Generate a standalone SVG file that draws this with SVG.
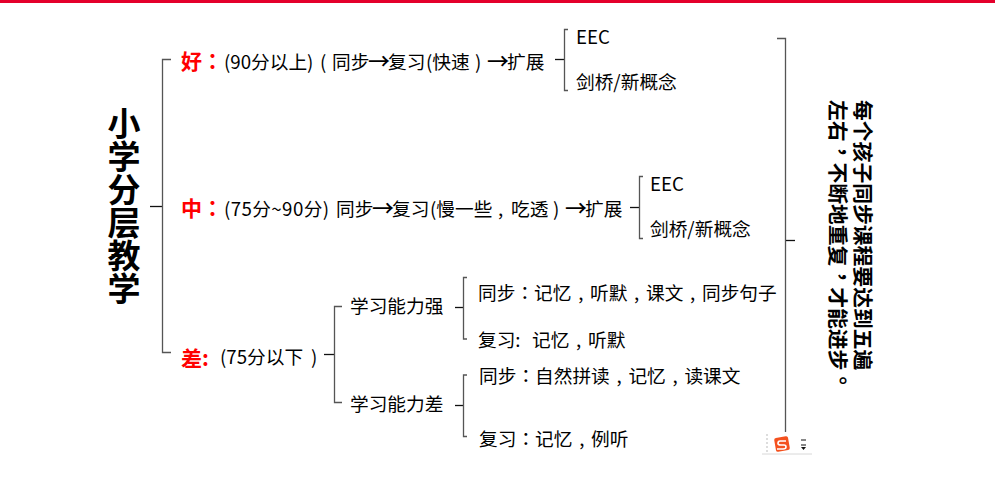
<svg xmlns="http://www.w3.org/2000/svg" width="995" height="484" viewBox="0 0 995 484">
<style>
text{font-family:"Noto Sans CJK SC","Liberation Sans",sans-serif;fill:#000}
tspan.p{font-family:"Noto Sans CJK TC",sans-serif}
tspan.a{font-size:22px;font-weight:500}
.t{font-size:18.7px}
.r{font-size:21px;font-weight:700;fill:#f00}
.h{font-size:33px;font-weight:700}
.v{font-size:20.8px;font-weight:700}
.c path{fill:none;stroke:#555;stroke-width:1.3}
.c path.k{stroke:#111}
</style>
<rect width="995" height="484" fill="#fff"/>
<rect id="top-bar" width="995" height="3" fill="#e4002b"/>
<g class="c" id="connectors">
<path class="k" d="M150 206.500H162"/>
<path d="M171 59.500H162.500V352.500H171"/>
<path class="k" d="M555 59.500H564"/>
<path d="M568 29.500H564.500V90.500H568"/>
<path class="k" d="M630 207.500H639"/>
<path d="M643 176.500H639.500V238.500H643"/>
<path class="k" d="M324 354.500H334"/>
<path d="M342 306.500H334.500V402.500H342"/>
<path class="k" d="M455 307.500H463"/>
<path d="M467 277.500H463.500V339H467"/>
<path class="k" d="M455 405.500H463"/>
<path d="M467 375H463.500V436.500H467"/>
<path d="M777 38.500H785.500V432"/>
<path class="k" d="M786 240.500H795"/>
</g>
<g id="root"><text class="h" text-anchor="middle" x="124 124 124 124 124 124" y="136 169 202 235 268 301">小学分层教学</text></g>
<g id="good"><text class="r" x="181" y="69">好<tspan class="p">：</tspan></text><text class="t" y="69"><tspan x="224">(90分以上)</tspan><tspan x="320">(</tspan><tspan x="332">同步</tspan><tspan class="a" x="368">→</tspan><tspan x="388">复习</tspan><tspan x="426">(快速</tspan><tspan x="475">)</tspan><tspan class="a" x="487">→</tspan><tspan x="507">扩展</tspan></text></g>
<g id="good-eec"><text class="t" x="576" y="44">EEC</text></g>
<g id="good-cam"><text class="t" x="576" y="89">剑桥/新概念</text></g>
<g id="mid"><text class="r" x="181" y="216">中<tspan class="p">：</tspan></text><text class="t" y="216"><tspan x="224" letter-spacing=".4">(75分~90分)</tspan><tspan x="336">同步</tspan><tspan class="a" x="372">→</tspan><tspan x="392">复习</tspan><tspan x="430">(慢一些</tspan><tspan x="498">,</tspan><tspan x="511">吃透</tspan><tspan x="553">)</tspan><tspan class="a" x="565">→</tspan><tspan x="585">扩展</tspan></text></g>
<g id="mid-eec"><text class="t" x="650" y="191">EEC</text></g>
<g id="mid-cam"><text class="t" x="650" y="236">剑桥/新概念</text></g>
<g id="poor"><text class="r" x="181" y="366">差:</text><text class="t" y="364"><tspan x="220">(75分以下</tspan><tspan x="311">)</tspan></text></g>
<g id="strong"><text class="t" x="350" y="312.500">学习能力强</text></g>
<g id="weak"><text class="t" x="350" y="410.500">学习能力差</text></g>
<g id="s1"><text class="t" x="478" y="300">同步<tspan class="p">：</tspan>记忆<tspan dx="6.700">,</tspan><tspan dx="6.700">听默</tspan><tspan dx="6.700">,</tspan><tspan dx="6.700">课文</tspan><tspan dx="6.700">,</tspan><tspan dx="6.700">同步句子</tspan></text></g>
<g id="s2"><text class="t" y="347"><tspan x="478">复习:</tspan><tspan x="532">记忆</tspan><tspan dx="6.700">,</tspan><tspan dx="6.700">听默</tspan></text></g>
<g id="w1"><text class="t" x="479" y="383">同步<tspan class="p">：</tspan>自然拼读<tspan dx="6.700">,</tspan><tspan dx="6.700">记忆</tspan><tspan dx="6.700">,</tspan><tspan dx="6.700">读课文</tspan></text></g>
<g id="w2"><text class="t" x="479" y="446">复习<tspan class="p">：</tspan>记忆<tspan dx="6.700">,</tspan><tspan dx="6.700">例听</tspan></text></g>
<g id="note">
<text class="v" transform="translate(855 100) rotate(90)">每个孩子同步课程要达到五遍</text>
<text class="v" transform="translate(830 100) rotate(90)">左右<tspan class="p" dy="-5">，</tspan><tspan dy="5">不断地重复</tspan><tspan class="p" dy="-5">，</tspan><tspan dy="5">才能进步</tspan><tspan class="p" dy="-5">。</tspan></text>
</g>
<g id="ime">
<path d="M762 454H812" stroke="#d8d8d8" fill="none"/>
<path d="M767 434V454" stroke="#bbb" stroke-dasharray="2 2" fill="none"/>
<rect x="775" y="437" width="14" height="14" rx="2" fill="#f4511e" transform="rotate(-10 782 444)"/>
<path d="M786 441H780Q778 441 778 443.500Q778 445 781 445H784Q786 445 786 447Q786 449 783 449H777" stroke="#fff" stroke-width="1.600" fill="none"/>
<path d="M801 440H806M801 445H806" stroke="#111" fill="none"/>
<path d="M801 447H806L803.500 450Z" fill="#111"/>
</g>
</svg>
